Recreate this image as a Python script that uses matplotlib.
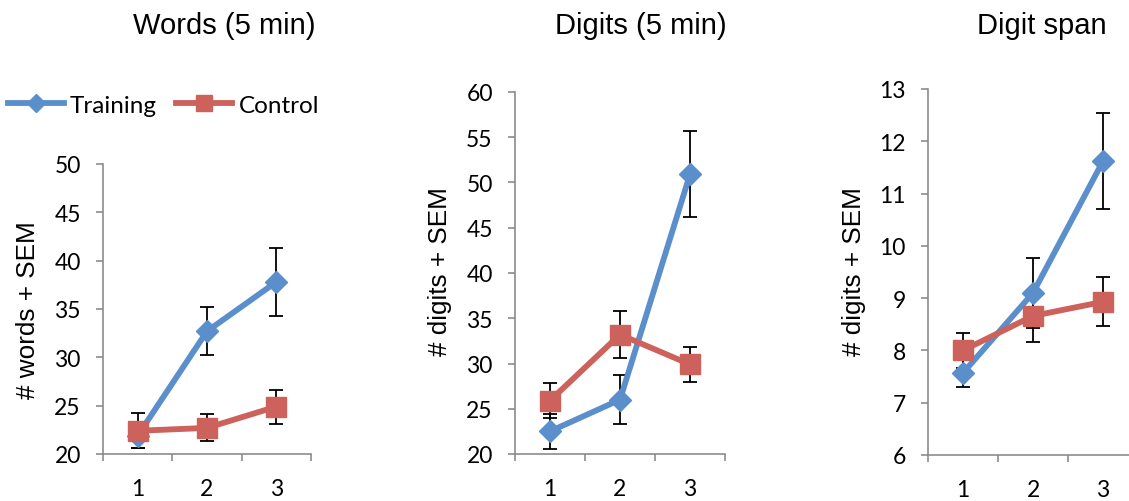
import matplotlib
matplotlib.use("Agg")
import matplotlib.pyplot as plt
import numpy as np

sessions = [1, 2, 3]
titles = ["Words (5 min)", "Digits (5 min)", "Digit span"]
ylabels = ["# words + SEM", "# digits + SEM", "# digits + SEM"]

words_training = [21.9, 32.7, 37.8]
words_training_sem = [1.3, 2.5, 3.5]
words_control = [22.4, 22.7, 24.9]
words_control_sem = [1.8, 1.4, 1.75]

digits_training = [22.5, 26.0, 50.9]
digits_training_sem = [1.9, 2.7, 4.75]
digits_control = [25.9, 33.2, 29.9]
digits_control_sem = [1.95, 2.6, 1.97]

span_training = [7.57, 9.1, 11.62]
span_training_sem = [0.26, 0.67, 0.92]
span_control = [8.0, 8.66, 8.93]
span_control_sem = [0.33, 0.5, 0.47]

ylims = [(20, 50), (20, 60), (6, 13)]
ysteps = [5, 5, 1]

BLUE = "#5A8FCB"
RED = "#CD615B"
AXC = "#8C8C8C"
TICKFONT = "Lato"
TEXTFONT = "Liberation Sans"

W, H = 1129, 502
fig = plt.figure(figsize=(W / 100, H / 100), dpi=100)

# axes boxes in pixels: left, right, top, bottom
boxes = [(103, 311, 165, 455), (515, 725, 93, 455), (928, 1138, 90, 456)]
title_pos = [(224, 26), (641, 26), (1042, 26)]
ylabel_pos = [(28, 310), (440, 272), (854, 272)]

data = [
    (words_training, words_training_sem, words_control, words_control_sem),
    (digits_training, digits_training_sem, digits_control, digits_control_sem),
    (span_training, span_training_sem, span_control, span_control_sem),
]

handles = None
for i, (box, (tr, trs, co, cos)) in enumerate(zip(boxes, data)):
    l, r, t, b = box
    ax = fig.add_axes([l / W, 1 - b / H, (r - l) / W, (b - t) / H])
    ax.errorbar(sessions, co, yerr=cos, fmt="none", ecolor="black",
                elinewidth=1.3, capsize=5.3, capthick=1.3, zorder=2)
    ax.errorbar(sessions, tr, yerr=trs, fmt="none", ecolor="black",
                elinewidth=1.3, capsize=5.3, capthick=1.3, zorder=2)
    h1, = ax.plot(sessions, tr, color=BLUE, lw=4.2, marker="D", ms=11.5,
                  mec=BLUE, mfc=BLUE, zorder=3, label="Training")
    h2, = ax.plot(sessions, co, color=RED, lw=4.2, marker="s", ms=15,
                  mec=RED, mfc=RED, zorder=3, label="Control")
    if handles is None:
        handles = [h1, h2]
    y0, y1 = ylims[i]
    ax.set_ylim(y0, y1)
    ax.set_xlim(0.5, 3.5)
    ax.set_yticks(np.arange(y0, y1 + 0.001, ysteps[i]))
    ax.set_xticks(sessions)
    ax.set_xticks([0.5, 1.5, 2.5, 3.5], minor=True)
    ax.tick_params(axis="x", which="major", length=0, pad=17, labelsize=16.5)
    ax.tick_params(axis="x", which="minor", length=5, width=1.2, color=AXC, direction="out")
    ax.tick_params(axis="y", length=5, width=1.2, color=AXC, direction="out", pad=11, labelsize=16.5)
    for lab in ax.get_xticklabels() + ax.get_yticklabels():
        lab.set_fontfamily(TICKFONT)
    for s in ["top", "right"]:
        ax.spines[s].set_visible(False)
    for s in ["left", "bottom"]:
        ax.spines[s].set_color(AXC)
        ax.spines[s].set_linewidth(1.2)
    ax.patch.set_alpha(0)
    tx, ty = title_pos[i]
    fig.text(tx / W, 1 - ty / H, titles[i], ha="center", va="center",
             fontsize=21, family=TEXTFONT)
    lx, ly = ylabel_pos[i]
    fig.text(lx / W, 1 - ly / H, ylabels[i], ha="center", va="center",
             rotation=90, fontsize=18.8, family=TEXTFONT)

leg = fig.legend(handles=handles, loc="center left", bbox_to_anchor=(8 / W, 1 - 106 / H),
                 ncol=2, frameon=False, borderpad=0, borderaxespad=0,
                 handlelength=2.3, handletextpad=0.25, columnspacing=0.8,
                 markerscale=0.8, prop={"family": TICKFONT, "size": 17.5})

fig.savefig("out.png", dpi=100)
